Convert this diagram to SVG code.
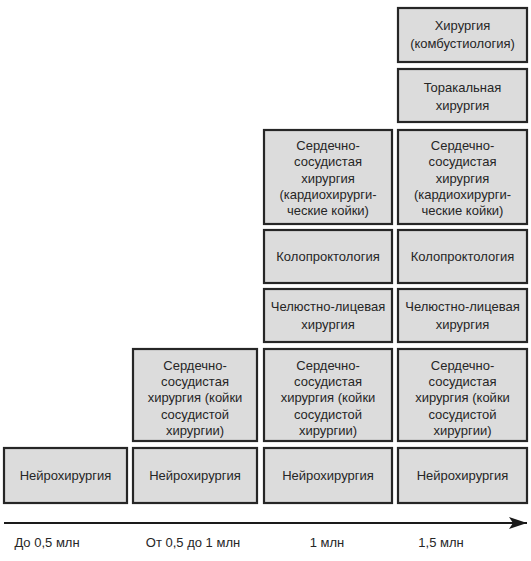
<svg xmlns="http://www.w3.org/2000/svg" width="531" height="561" viewBox="0 0 531 561">
<style>
.b{fill:#dcdcdc;stroke:#262626;stroke-width:2.2}
text{font-family:"Liberation Sans",Arial,sans-serif;font-size:13px;fill:#262626;text-anchor:middle}
</style>
<defs><marker id="ah" markerWidth="18" markerHeight="12" refX="18" refY="6" orient="auto" markerUnits="userSpaceOnUse"><path d="M0,0 L18,6 L0,12 L4,6 Z" fill="#1a1a1a"/></marker></defs>
<rect width="531" height="561" fill="#fff"/>
<g id="connectors"><line x1="4" y1="523" x2="527" y2="523" stroke="#1a1a1a" stroke-width="2" marker-end="url(#ah)"/></g>
<g id="n1"><rect class="b" x="4" y="448" width="123" height="55"/><text x="65.5" y="480">Нейрохирургия</text></g>
<g id="n2"><rect class="b" x="133" y="448" width="124" height="55"/><text x="195" y="480">Нейрохирургия</text></g>
<g id="n3"><rect class="b" x="264" y="448" width="128" height="55"/><text x="328" y="480">Нейрохирургия</text></g>
<g id="n4"><rect class="b" x="398" y="448" width="129" height="55"/><text x="462.5" y="480">Нейрохирургия</text></g>
<g id="c2"><rect class="b" x="133" y="349" width="124" height="92"/><text x="195" y="369.5">Сердечно-</text><text x="195" y="386">сосудистая</text><text x="195" y="402">хирургия (койки</text><text x="195" y="418.5">сосудистой</text><text x="195" y="435">хирургии)</text></g>
<g id="c3"><rect class="b" x="264" y="349" width="128" height="92"/><text x="328" y="369.5">Сердечно-</text><text x="328" y="386">сосудистая</text><text x="328" y="402">хирургия (койки</text><text x="328" y="418.5">сосудистой</text><text x="328" y="435">хирургии)</text></g>
<g id="c4"><rect class="b" x="398" y="349" width="129" height="92"/><text x="462.5" y="369.5">Сердечно-</text><text x="462.5" y="386">сосудистая</text><text x="462.5" y="402">хирургия (койки</text><text x="462.5" y="418.5">сосудистой</text><text x="462.5" y="435">хирургии)</text></g>
<g id="m3"><rect class="b" x="264" y="289" width="128" height="53"/><text x="328" y="311">Челюстно-лицевая</text><text x="328" y="329">хирургия</text></g>
<g id="m4"><rect class="b" x="398" y="289" width="129" height="53"/><text x="462.5" y="311">Челюстно-лицевая</text><text x="462.5" y="329">хирургия</text></g>
<g id="k3"><rect class="b" x="264" y="230" width="128" height="53"/><text x="328" y="261">Колопроктология</text></g>
<g id="k4"><rect class="b" x="398" y="230" width="129" height="53"/><text x="462.5" y="261">Колопроктология</text></g>
<g id="h3"><rect class="b" x="264" y="130" width="128" height="94"/><text x="328" y="150">Сердечно-</text><text x="328" y="166">сосудистая</text><text x="328" y="182.5">хирургия</text><text x="328" y="198.5">(кардиохирурги-</text><text x="328" y="215">ческие койки)</text></g>
<g id="h4"><rect class="b" x="398" y="130" width="129" height="94"/><text x="462.5" y="150">Сердечно-</text><text x="462.5" y="166">сосудистая</text><text x="462.5" y="182.5">хирургия</text><text x="462.5" y="198.5">(кардиохирурги-</text><text x="462.5" y="215">ческие койки)</text></g>
<g id="t4"><rect class="b" x="398" y="69" width="129" height="53"/><text x="462.5" y="91.5">Торакальная</text><text x="462.5" y="109.5">хирургия</text></g>
<g id="s4"><rect class="b" x="398" y="8" width="129" height="54"/><text x="462.5" y="29.5">Хирургия</text><text x="462.5" y="47.5">(комбустиология)</text></g>
<g id="axis"><text x="47" y="547">До 0,5 млн</text><text x="193" y="547">От 0,5 до 1 млн</text><text x="327" y="547">1 млн</text><text x="441" y="547">1,5 млн</text></g>
</svg>
